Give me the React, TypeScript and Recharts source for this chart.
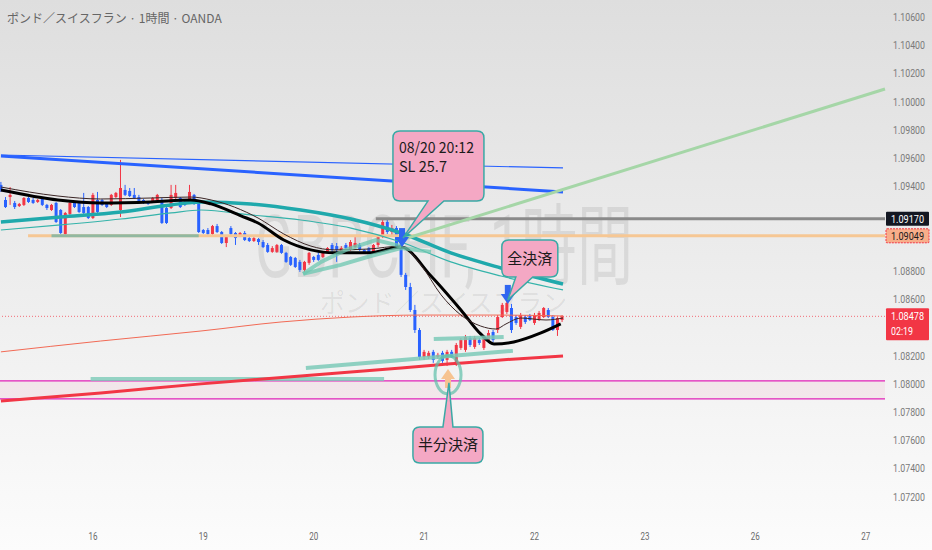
import React from 'react';
import { ComposedChart, Bar, Line, XAxis, YAxis, ReferenceLine, ReferenceArea, ReferenceDot } from 'recharts';

// hourly candles, index 0 = Aug 15 04:00
const opens = [
  1.09410, 1.09303, 1.09324, 1.09282, 1.09260, 1.09268, 1.09317, 1.09303, 1.09289, 1.09310,
  1.09268, 1.09232, 1.09282, 1.09232, 1.09062, 1.09204, 1.09289, 1.09282, 1.09253, 1.09253,
  1.09175, 1.09303, 1.09303, 1.09282, 1.09268, 1.09324, 1.09232, 1.09374, 1.09367, 1.09339,
  1.09324, 1.09303, 1.09289, 1.09289, 1.09303, 1.09303, 1.09246, 1.09246, 1.09317, 1.09317,
  1.09289, 1.09282, 1.09339, 1.09282, 1.09090, 1.09090, 1.09062, 1.09118, 1.09076, 1.08998,
  1.09104, 1.09069, 1.09047, 1.09069, 1.09033, 1.09012, 1.09026, 1.09005, 1.08984, 1.08935,
  1.08935, 1.08984, 1.08928, 1.08899, 1.08892, 1.08864, 1.08807, 1.08857, 1.08899, 1.08913,
  1.08899, 1.08935, 1.08984, 1.08976, 1.08928, 1.08984, 1.08949, 1.08969, 1.08984, 1.08949,
  1.08962, 1.08935, 1.08984, 1.09040, 1.09147, 1.09076, 1.09104, 1.08976, 1.08772, 1.08686,
  1.08523, 1.08381, 1.08190, 1.08190, 1.08226, 1.08190, 1.08219, 1.08169, 1.08226, 1.08155,
  1.08254, 1.08240, 1.08324, 1.08261, 1.08310, 1.08254, 1.08310, 1.08367, 1.08381, 1.08473,
  1.08509, 1.08537, 1.08473, 1.08403, 1.08473, 1.08480, 1.08431, 1.08452, 1.08473, 1.08523,
  1.08473, 1.08381, 1.08452,
];
const highs = [
  1.09431, 1.09324, 1.09395, 1.09296, 1.09282, 1.09324, 1.09324, 1.09317, 1.09310, 1.09317,
  1.09275, 1.09275, 1.09289, 1.09239, 1.09218, 1.09289, 1.09296, 1.09289, 1.09353, 1.09260,
  1.09353, 1.09360, 1.09310, 1.09289, 1.09346, 1.09360, 1.09587, 1.09410, 1.09388, 1.09388,
  1.09339, 1.09310, 1.09296, 1.09324, 1.09346, 1.09317, 1.09253, 1.09410, 1.09410, 1.09324,
  1.09303, 1.09410, 1.09346, 1.09289, 1.09097, 1.09104, 1.09126, 1.09133, 1.09083, 1.09047,
  1.09118, 1.09076, 1.09076, 1.09083, 1.09040, 1.09040, 1.09033, 1.09019, 1.08998, 1.08976,
  1.08991, 1.08991, 1.08935, 1.08906, 1.08899, 1.08878, 1.08871, 1.08935, 1.08906, 1.08935,
  1.08935, 1.08969, 1.08998, 1.08998, 1.08976, 1.08998, 1.09019, 1.09040, 1.08998, 1.08955,
  1.08969, 1.08991, 1.09055, 1.09168, 1.09175, 1.09126, 1.09118, 1.09019, 1.08786, 1.08715,
  1.08559, 1.08395, 1.08240, 1.08233, 1.08240, 1.08219, 1.08233, 1.08240, 1.08240, 1.08289,
  1.08324, 1.08346, 1.08339, 1.08339, 1.08324, 1.08346, 1.08381, 1.08381, 1.08487, 1.08573,
  1.08594, 1.08566, 1.08487, 1.08502, 1.08487, 1.08495, 1.08502, 1.08516, 1.08544, 1.08537,
  1.08487, 1.08473, 1.08487,
];
const lows = [
  1.09360, 1.09246, 1.09268, 1.09239, 1.09253, 1.09260, 1.09282, 1.09275, 1.09282, 1.09260,
  1.09232, 1.09225, 1.09140, 1.09062, 1.09055, 1.09197, 1.09246, 1.09211, 1.09204, 1.09168,
  1.09168, 1.09211, 1.09260, 1.09246, 1.09260, 1.09317, 1.09182, 1.09331, 1.09324, 1.09310,
  1.09275, 1.09275, 1.09268, 1.09282, 1.09296, 1.09133, 1.09133, 1.09239, 1.09310, 1.09246,
  1.09260, 1.09275, 1.09268, 1.09069, 1.09062, 1.09055, 1.09055, 1.09069, 1.08991, 1.08969,
  1.09055, 1.08984, 1.09040, 1.09012, 1.09005, 1.09005, 1.08984, 1.08962, 1.08928, 1.08928,
  1.08928, 1.08921, 1.08857, 1.08835, 1.08821, 1.08793, 1.08793, 1.08843, 1.08864, 1.08871,
  1.08892, 1.08928, 1.08935, 1.08864, 1.08921, 1.08955, 1.08942, 1.08962, 1.08942, 1.08921,
  1.08921, 1.08928, 1.08969, 1.09033, 1.09062, 1.09047, 1.08962, 1.08757, 1.08665, 1.08509,
  1.08360, 1.08169, 1.08169, 1.08176, 1.08148, 1.08176, 1.08148, 1.08126, 1.08183, 1.08126,
  1.08240, 1.08226, 1.08261, 1.08247, 1.08275, 1.08240, 1.08296, 1.08296, 1.08360, 1.08466,
  1.08495, 1.08360, 1.08417, 1.08388, 1.08424, 1.08445, 1.08417, 1.08445, 1.08466, 1.08466,
  1.08374, 1.08339, 1.08438,
];
const closes = [
  1.09374, 1.09253, 1.09339, 1.09253, 1.09275, 1.09317, 1.09289, 1.09282, 1.09303, 1.09268,
  1.09246, 1.09268, 1.09147, 1.09069, 1.09211, 1.09282, 1.09253, 1.09218, 1.09211, 1.09175,
  1.09339, 1.09218, 1.09268, 1.09253, 1.09339, 1.09353, 1.09388, 1.09339, 1.09331, 1.09317,
  1.09282, 1.09282, 1.09275, 1.09317, 1.09339, 1.09140, 1.09140, 1.09339, 1.09353, 1.09253,
  1.09268, 1.09360, 1.09282, 1.09076, 1.09069, 1.09062, 1.09118, 1.09076, 1.08998, 1.09040,
  1.09062, 1.09033, 1.09069, 1.09019, 1.09012, 1.09033, 1.09005, 1.08969, 1.08935, 1.08962,
  1.08984, 1.08928, 1.08864, 1.08843, 1.08828, 1.08807, 1.08864, 1.08928, 1.08878, 1.08878,
  1.08928, 1.08962, 1.08949, 1.08949, 1.08962, 1.08962, 1.09005, 1.08998, 1.08949, 1.08928,
  1.08928, 1.08984, 1.09040, 1.09147, 1.09076, 1.09104, 1.08976, 1.08772, 1.08686, 1.08523,
  1.08381, 1.08190, 1.08226, 1.08219, 1.08169, 1.08205, 1.08162, 1.08226, 1.08190, 1.08275,
  1.08310, 1.08331, 1.08275, 1.08324, 1.08289, 1.08331, 1.08360, 1.08310, 1.08473, 1.08559,
  1.08573, 1.08381, 1.08431, 1.08487, 1.08438, 1.08452, 1.08487, 1.08502, 1.08537, 1.08473,
  1.08381, 1.08466, 1.08478,
];

const dayTicks = [20, 44, 68, 92, 116, 140, 164, 188];
const dayLabels = ['16', '19', '20', '21', '22', '23', '26', '27'];
// 1.084, 1.090 and 1.092 sit under the price tags and are not shown
const priceTicks = [
  1.072, 1.074, 1.076, 1.078, 1.08, 1.082, 1.086, 1.088,
  1.094, 1.096, 1.098, 1.1, 1.102, 1.104, 1.106,
];

// moving averages [candle index, price]
const maFast: [number, number][] = [
  [0, 1.09395], [12.4, 1.09331], [21.7, 1.0931], [32.6, 1.09317], [41.3, 1.09324], [45.7, 1.09303],
  [55.9, 1.09175], [61.5, 1.09062], [67.4, 1.08976], [72.4, 1.08949], [79.8, 1.08955], [87, 1.08976],
  [91.3, 1.08843], [95.7, 1.0863], [100, 1.08487], [104.3, 1.08409], [107.6, 1.08388], [109.8, 1.08424],
  [113, 1.08466], [118.5, 1.08452], [122.2, 1.08466],
];
const maSlow: [number, number][] = [
  [0, 1.09374], [12.4, 1.09303], [21.7, 1.09282], [32.6, 1.09289], [41.3, 1.09303], [45.7, 1.09275],
  [52.2, 1.0919], [55.9, 1.0914], [61.5, 1.09019], [67.4, 1.08949], [72.4, 1.08928], [79.8, 1.08928],
  [87, 1.08969], [93.5, 1.08764], [100, 1.08523], [104.3, 1.08353], [107.2, 1.08282], [111.5, 1.08296],
  [117.4, 1.0836], [121.7, 1.08424],
];
const maTealWide: [number, number][] = [
  [0, 1.09147], [13, 1.09182], [26.1, 1.09218], [37, 1.09268], [43.5, 1.09289], [54.3, 1.09275],
  [65.2, 1.09232], [76.1, 1.09168], [87, 1.09069], [97.8, 1.08928], [108.7, 1.08821], [122.2, 1.08707],
];
const maTealThin: [number, number][] = [
  [0, 1.0909], [13, 1.09126], [26.1, 1.09168], [37, 1.09211], [43.5, 1.09232], [54.3, 1.09197],
  [65.2, 1.09161], [76.1, 1.09104], [87, 1.09005], [97.8, 1.08864], [108.7, 1.08764], [122.2, 1.08665],
];
const maRedThin: [number, number][] = [
  [0, 1.08226], [21.7, 1.08303], [43.5, 1.08374], [60.9, 1.08438], [76.1, 1.08473], [91.3, 1.08487],
  [108.7, 1.08487], [122.2, 1.0848],
];
const maRedWide: [number, number][] = [
  [0, 1.07878], [21.7, 1.07935], [43.5, 1.07999], [65.2, 1.08055], [87, 1.08112], [97.8, 1.08141],
  [108.7, 1.08169], [122.2, 1.08197],
];

// hand drawn lines
const trendBlueWide = [[0, 1.09615], [122.2, 1.0936]];
const trendBlueThin = [[0, 1.09622], [122.2, 1.0953]];
const trendGreen = [[87, 1.09019], [192.2, 1.1009]];
const tealUpperSeg = [[94.1, 1.08317], [109.3, 1.08331]];
const tealLowerSeg = [[66.3, 1.08112], [111.3, 1.08233]];
const brushUpper: [number, number][] = [[65.7, 1.08779], [69.6, 1.08864], [75, 1.08949], [81.5, 1.09019], [87, 1.08976]];
const brushLower: [number, number][] = [[65.7, 1.08779], [73.9, 1.08843], [80.4, 1.08906], [87, 1.08962], [93.5, 1.08935]];

const lastPrice = 1.08478;
const lineGray = 1.0917;
const lineOrange = 1.09049;
const lineTealLow = 1.08034;
const bandTop = 1.0802;
const bandBottom = 1.07893;

// annotation anchors [candle index, price]
const entryTip = [87.4, 1.09033];
const fullExitTip = [110.2, 1.08594];
const halfExitTip = [97.4, 1.08006];
const arrowEntry = [87.2, 1.08969];
const arrowExit = [110.2, 1.08566];
const arrowHalf = [97.2, 1.08105];
const halfCircle = [97.2, 1.08063];

const X_MIN = -0.2;
const X_MAX = 192.2;
const UP = '#f23645';
const DOWN = '#2962ff';

const candles = opens.map((o, k) => ({ k, open: o, high: highs[k], low: lows[k], close: closes[k] }));
const pts = (arr: [number, number][]) => arr.map(([k, p]) => ({ k, p }));
const seg = (arr: number[][]) => arr.map(([x, y]) => ({ x, y }));

const Candle = (props: any) => {
  const { x, y, width, height, payload } = props;
  if (!payload) return null;
  const top = Math.min(y, y + height);
  const h = Math.abs(height);
  const { open, close, high, low } = payload;
  const cx = x + width / 2;
  const s = h / (high - low);
  const yo = top + (high - open) * s;
  const yc = top + (high - close) * s;
  const color = close >= open ? UP : DOWN;
  return (
    <g>
      <line x1={cx} x2={cx} y1={top} y2={top + h} stroke={color} strokeWidth={1} />
      <rect x={cx - 1.5} y={Math.min(yo, yc)} width={3} height={Math.max(Math.abs(yo - yc), 1)} fill={color} />
    </g>
  );
};

const PriceTick = (props: any) => {
  const { x, y, payload } = props;
  return (
    <text x={x} y={y + 4} fontSize={11} fill="#7a7a7a" fontFamily="Roboto" textLength={32} lengthAdjust="spacingAndGlyphs">
      {payload.value.toFixed(5)}
    </text>
  );
};

const DayTick = (props: any) => {
  const { x, y, payload } = props;
  const label = dayLabels[dayTicks.indexOf(payload.value)];
  return (
    <text x={x} y={y + 14} fontSize={11} fill="#6a6a6a" fontFamily="Roboto" textAnchor="middle" textLength={9} lengthAdjust="spacingAndGlyphs">
      {label}
    </text>
  );
};

const priceTag = (text: string, fill: string, color: string, opts: { sub?: string; dashed?: boolean } = {}) =>
  (props: any) => {
    const { cx, cy } = props;
    const tall = !!opts.sub;
    const top = tall ? cy - 8 : cy - 7;
    return (
      <g>
        <rect x={cx + 1} y={top} width={43} height={tall ? 32 : 14} fill={fill}
          stroke={opts.dashed ? '#f23645' : 'none'} strokeDasharray={opts.dashed ? '2 1' : undefined} rx={1} />
        <text x={cx + 6} y={cy + 4} fontSize={11} fill={color} fontFamily="Roboto" textLength={33} lengthAdjust="spacingAndGlyphs">{text}</text>
        {tall && (
          <text x={cx + 6} y={cy + 19} fontSize={11} fill={color} fontFamily="Roboto" textLength={22} lengthAdjust="spacingAndGlyphs">{opts.sub}</text>
        )}
      </g>
    );
  };

const calloutPath = (l: number, t: number, r: number, b: number, ta: number, tb: number, tx: number, ty: number, side: 'top' | 'bottom') => {
  const q = 7;
  if (side === 'bottom') {
    return `M${l + q},${t} H${r - q} Q${r},${t} ${r},${t + q} V${b - q} Q${r},${b} ${r - q},${b} H${tb} L${tx},${ty} L${ta},${b} H${l + q} Q${l},${b} ${l},${b - q} V${t + q} Q${l},${t} ${l + q},${t} Z`;
  }
  return `M${l + q},${t} H${ta} L${tx},${ty} L${tb},${t} H${r - q} Q${r},${t} ${r},${t + q} V${b - q} Q${r},${b} ${r - q},${b} H${l + q} Q${l},${b} ${l},${b - q} V${t + q} Q${l},${t} ${l + q},${t} Z`;
};

const calloutStyle = { fill: '#f4a8c4', stroke: '#3aa9a5', strokeWidth: 1.5 };
const textStyle = { fill: '#1b1b1b', fontFamily: "'Noto Sans CJK JP', 'Noto Sans', sans-serif" };

const EntryCallout = (props: any) => {
  const { cx, cy } = props;
  return (
    <g>
      <path d={calloutPath(cx - 10, cy - 107, cx + 81, cy - 37, cx + 25, cx + 41, cx, cy, 'bottom')} {...calloutStyle} />
      <text x={cx - 4} y={cy - 85} fontSize={15} textLength={75} lengthAdjust="spacingAndGlyphs" {...textStyle}>08/20 20:12</text>
      <text x={cx - 4} y={cy - 66} fontSize={15} textLength={48} lengthAdjust="spacingAndGlyphs" {...textStyle}>SL 25.7</text>
    </g>
  );
};

const FullExitCallout = (props: any) => {
  const { cx, cy } = props;
  return (
    <g>
      <path d={calloutPath(cx - 6, cy - 60, cx + 50, cy - 23, cx + 8, cx + 25, cx, cy, 'bottom')} {...calloutStyle} />
      <text x={cx + 22} y={cy - 36} fontSize={15} textAnchor="middle" {...textStyle}>全決済</text>
    </g>
  );
};

const HalfExitCallout = (props: any) => {
  const { cx, cy } = props;
  return (
    <g>
      <path d={calloutPath(cx - 36, cy + 44, cx + 34, cy + 80, cx - 6, cx + 4, cx, cy, 'top')} {...calloutStyle} />
      <text x={cx - 1} y={cy + 67} fontSize={15} textAnchor="middle" {...textStyle}>半分決済</text>
    </g>
  );
};

const DownArrow = (props: any) => {
  const { cx, cy } = props;
  return (
    <g fill="#2f66f0">
      <rect x={cx - 3} y={cy - 19} width={6} height={10} />
      <polygon points={`${cx - 7},${cy - 10} ${cx + 7},${cy - 10} ${cx},${cy}`} />
    </g>
  );
};

const UpArrow = (props: any) => {
  const { cx, cy } = props;
  return (
    <g fill="#f6c390">
      <polygon points={`${cx},${cy} ${cx - 7},${cy + 10} ${cx + 7},${cy + 10}`} />
      <rect x={cx - 3} y={cy + 9} width={6} height={10} />
    </g>
  );
};

const Ring = (props: any) => {
  const { cx, cy } = props;
  return <ellipse cx={cx} cy={cy} rx={13} ry={19} fill="none" stroke="#5cbfa8" strokeOpacity={0.7} strokeWidth={3} />;
};

const lineProps = { dot: false, activeDot: false, isAnimationActive: false, dataKey: 'p' };

export default function App() {
  return (
    <div style={{ position: 'relative', width: 932, height: 550, overflow: 'hidden', background: 'linear-gradient(#dedede, #fcfcfc)' }}>
      <style>{'body{margin:0}'}</style>
      <svg width={932} height={550} style={{ position: 'absolute', left: 0, top: 0 }}>
        <text x={255} y={277} fontSize={88} fill="rgba(0,0,0,0.08)" fontFamily="Roboto, 'Noto Sans CJK JP'" textLength={378} lengthAdjust="spacingAndGlyphs">GBPCHF, 1時間</text>
        <text x={320} y={312} fontSize={25} fill="rgba(0,0,0,0.08)" fontFamily="'Noto Sans CJK JP'" textLength={247} lengthAdjust="spacingAndGlyphs">ポンド／スイスフラン</text>
      </svg>
      <div style={{ position: 'absolute', left: 0, top: 0 }}>
        <ComposedChart width={932} height={550} data={candles} margin={{ top: 0, right: 0, bottom: 0, left: 0 }}>
          <XAxis dataKey="k" type="number" domain={[X_MIN, X_MAX]} allowDataOverflow ticks={dayTicks}
            tick={<DayTick />} axisLine={false} tickLine={false} height={32} interval={0} />
          <YAxis orientation="right" type="number" domain={[1.07048, 1.10721]} allowDataOverflow ticks={priceTicks}
            tick={<PriceTick />} axisLine={false} tickLine={false} width={47} interval={0} />

          <ReferenceArea y1={bandBottom} y2={bandTop} fill="#e91e63" fillOpacity={0.06} stroke="none" />
          <ReferenceLine y={bandTop} stroke="#e020b8" strokeWidth={1.2} />
          <ReferenceLine y={bandBottom} stroke="#e020b8" strokeWidth={1.2} />
          <ReferenceLine y={lastPrice} stroke={UP} strokeOpacity={0.7} strokeDasharray="1 2" />
          <ReferenceLine segment={[{ x: 5.9, y: lineOrange }, { x: X_MAX, y: lineOrange }]} stroke="#f6c794" strokeWidth={3} />
          <ReferenceLine segment={[{ x: 11, y: lineOrange }, { x: 43, y: lineOrange }]} stroke="#7fb5a2" strokeWidth={3} strokeOpacity={0.85} />
          <ReferenceLine segment={[{ x: 81.5, y: lineGray }, { x: X_MAX, y: lineGray }]} stroke="#8a8a8a" strokeWidth={3} />
          <ReferenceLine segment={[{ x: 19.5, y: lineTealLow }, { x: 83.3, y: lineTealLow }]} stroke="#7ccab8" strokeWidth={4} strokeOpacity={0.8} />

          <Bar dataKey={(d: any) => [d.low, d.high]} barSize={3} shape={<Candle />} isAnimationActive={false} />

          <Line data={pts(maRedWide)} type="monotone" stroke="#f23645" strokeWidth={3} {...lineProps} />
          <Line data={pts(maRedThin)} type="monotone" stroke="#f26a55" strokeWidth={1} {...lineProps} />
          <Line data={pts(maTealWide)} type="monotone" stroke="#1fa9ac" strokeWidth={3.5} {...lineProps} />
          <Line data={pts(maTealThin)} type="monotone" stroke="#35b3aa" strokeWidth={1.2} {...lineProps} />
          <Line data={pts(maSlow)} type="monotone" stroke="#000000" strokeWidth={3} {...lineProps} />
          <Line data={pts(maFast)} type="monotone" stroke="#3b2626" strokeWidth={1} {...lineProps} />
          <Line data={pts(brushUpper)} type="linear" stroke="#6cc7b0" strokeOpacity={0.75} strokeWidth={4} {...lineProps} />
          <Line data={pts(brushLower)} type="linear" stroke="#6cc7b0" strokeOpacity={0.75} strokeWidth={4} {...lineProps} />

          <ReferenceLine segment={seg(tealLowerSeg)} stroke="#7ccab8" strokeWidth={4} strokeOpacity={0.85} />
          <ReferenceLine segment={seg(tealUpperSeg)} stroke="#7ccab8" strokeWidth={4} strokeOpacity={0.85} />
          <ReferenceLine segment={seg(trendBlueThin)} stroke="#2962ff" strokeWidth={1.2} />
          <ReferenceLine segment={seg(trendBlueWide)} stroke="#2962ff" strokeWidth={3} />
          <ReferenceLine segment={seg(trendGreen)} stroke="#a5d6a7" strokeWidth={3} />

          <ReferenceDot x={halfCircle[0]} y={halfCircle[1]} shape={<Ring />} />
          <ReferenceDot x={arrowHalf[0]} y={arrowHalf[1]} shape={<UpArrow />} />
          <ReferenceDot x={arrowEntry[0]} y={arrowEntry[1]} shape={<DownArrow />} />
          <ReferenceDot x={arrowExit[0]} y={arrowExit[1]} shape={<DownArrow />} />
          <ReferenceDot x={entryTip[0]} y={entryTip[1]} shape={<EntryCallout />} />
          <ReferenceDot x={fullExitTip[0]} y={fullExitTip[1]} shape={<FullExitCallout />} />
          <ReferenceDot x={halfExitTip[0]} y={halfExitTip[1]} shape={<HalfExitCallout />} />

          <ReferenceDot x={X_MAX} y={lineGray} shape={priceTag('1.09170', '#131722', '#ffffff')} />
          <ReferenceDot x={X_MAX} y={lineOrange} shape={priceTag('1.09049', '#f8ae8a', '#1a1a1a', { dashed: true })} />
          <ReferenceDot x={X_MAX} y={lastPrice} shape={priceTag('1.08478', '#f23645', '#ffffff', { sub: '02:19' })} />
        </ComposedChart>
      </div>
      <div style={{ position: 'absolute', left: 7, top: 9, fontSize: 12, color: '#666', fontFamily: "'Noto Sans CJK JP', sans-serif", whiteSpace: 'nowrap' }}>
        ポンド／スイスフラン · 1時間 · OANDA
      </div>
    </div>
  );
}
